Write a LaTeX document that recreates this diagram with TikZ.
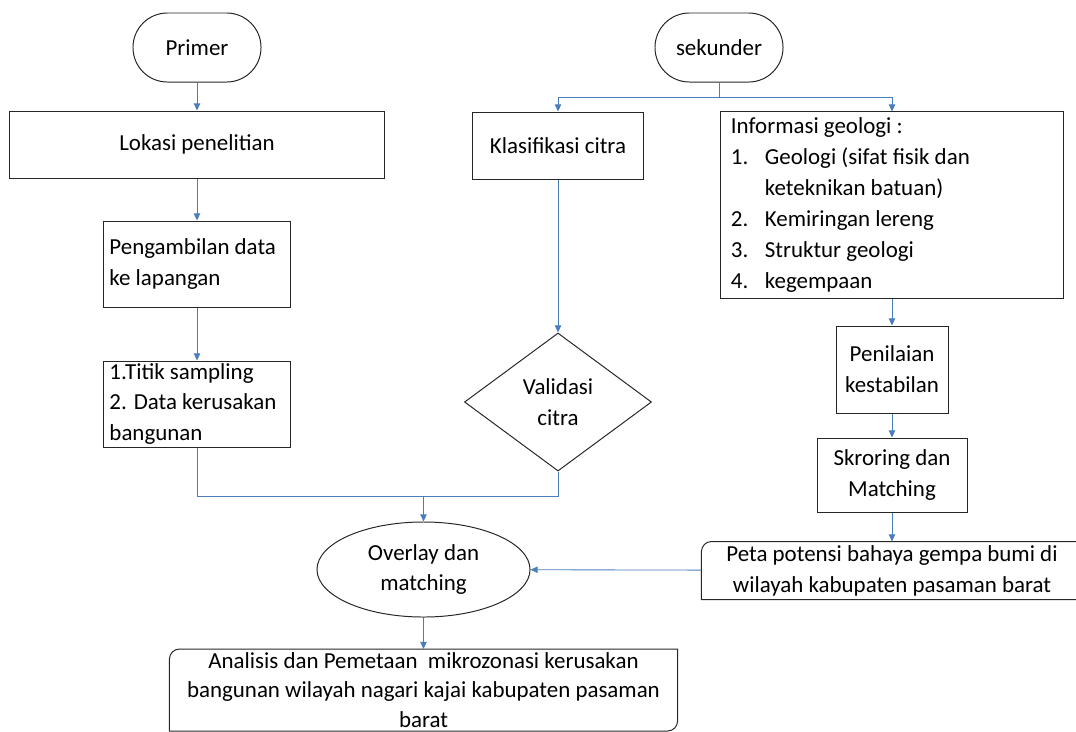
\documentclass[tikz,border=0pt]{standalone}
\usepackage{fontspec}
\setmainfont{Carlito}
\usetikzlibrary{shapes.geometric,arrows.meta}
\definecolor{lineblue}{HTML}{4A7EBB}
\newcommand{\itm}[1]{\makebox[0.85cm][l]{#1}}

\begin{document}
\begin{tikzpicture}
[x=0.025cm,y=-0.025cm,%
  every node/.style={draw=black!85,line width=0.7pt,inner sep=0pt,font=\fontsize{16.3pt}{22pt}\selectfont},%
  term/.style={rounded corners=0.86cm,minimum width=3.2cm,minimum height=1.725cm},%
  textbox/.style={align=flush left,inner xsep=0.15cm},%
  link/.style={lineblue,line width=0.6pt},%
  >={Triangle[length=5pt,width=4.5pt]}]
\useasboundingbox (0,0) rectangle (1076,731);
\node[term] (primer) at (197,47.5) {Primer};
\node[term] (sekunder) at (719,47.5) {sekunder};
\node[minimum width=9.35cm,minimum height=1.675cm] (lokasi) at (197,144.5) {Lokasi penelitian};
\node[textbox,text width=4.375cm,minimum height=2.15cm] (pengambilan) at (197,264)
  {Pengambilan data\\ke lapangan};
\node[textbox,text width=4.375cm,minimum height=2.15cm] (titik) at (197,404)
  {1.Titik sampling\\2. Data kerusakan\\bangunan};
\node[minimum width=4.25cm,minimum height=1.675cm] (klasifikasi) at (558,145.5) {Klasifikasi citra};
\node[textbox,inner xsep=0.25cm,text width=8.05cm,minimum height=4.65cm] (informasi) at (892,205)
  {Informasi geologi :\\
   \itm{1.}Geologi (sifat fisik dan\\
   \itm{}keteknikan batuan)\\
   \itm{2.}Kemiringan lereng\\
   \itm{3.}Struktur geologi\\
   \itm{4.}kegempaan};
\node[diamond,aspect=1.355,minimum width=4.675cm,minimum height=3.45cm,align=center] (validasi) at (558,402)
  {Validasi\\citra};
\node[minimum width=2.8cm,minimum height=2.175cm,align=center] (penilaian) at (892,369.5)
  {Penilaian\\kestabilan};
\node[minimum width=3.75cm,minimum height=1.85cm,align=center] (skroring) at (892,475)
  {Skroring dan\\Matching};
\node[draw=none,minimum width=9.5cm,minimum height=1.425cm,align=center] (peta) at (892,570.5)
  {Peta potensi bahaya gempa bumi di\\wilayah kabupaten pasaman barat};
\node[ellipse,minimum width=5.325cm,minimum height=2.375cm,align=center] (overlay) at (423.5,569.5)
  {Overlay dan\\matching};
\node[draw=none,anchor=north,minimum width=12.675cm,minimum height=2.025cm,align=center,%
  font=\fontsize{16.3pt}{21pt}\selectfont] (analisis) at (423.5,649)
  {Analisis dan Pemetaan~ mikrozonasi kerusakan\\bangunan wilayah nagari kajai kabupaten pasaman\\barat};
\draw[draw=black!85,line width=0.7pt] (peta.south west) -- ([yshift=-0.25cm]peta.north west)
  arc[start angle=180,end angle=90,radius=0.25cm] -- (peta.north east) -- (peta.south east) -- cycle;
\draw[draw=black!85,line width=0.7pt] ([xshift=0.25cm]analisis.north west) -- (analisis.north east)
  -- ([yshift=0.25cm]analisis.south east) arc[start angle=0,end angle=-90,radius=0.25cm]
  -- (analisis.south west) -- ([yshift=-0.25cm]analisis.north west)
  arc[start angle=180,end angle=90,radius=0.25cm] -- cycle;
\coordinate (split) at (719,97);
\coordinate (merge) at (423.5,496);
\draw[link,->] (primer) -- (lokasi);
\draw[link,->] (lokasi) -- (pengambilan);
\draw[link,->] (pengambilan) -- (titik);
\draw[link] (sekunder) -- (split);
\draw[link,->] (split) -| (klasifikasi);
\draw[link,->] (split) -| (informasi);
\draw[link,->] (klasifikasi) -- (validasi);
\draw[link,->] (informasi) -- (penilaian);
\draw[link,->] (penilaian) -- (skroring);
\draw[link,->] (skroring) -- (peta);
\draw[link] (titik) |- (merge);
\draw[link] (validasi) |- (merge);
\draw[link,->] (merge) -- (overlay);
\draw[link,->] (peta) -- (overlay);
\draw[link,->] (overlay) -- (analisis);
\end{tikzpicture}
\end{document}
